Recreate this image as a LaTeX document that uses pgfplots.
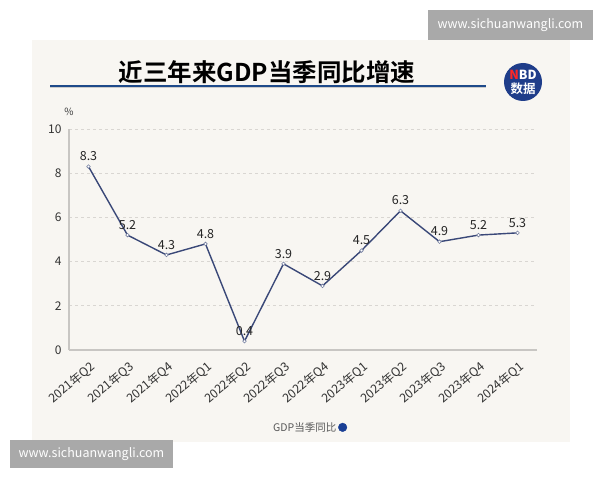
\documentclass[border=0pt]{standalone}
\usepackage{pgfplots}
\pgfplotsset{compat=1.18}
\usepackage{fontspec}
\setmainfont{Noto Sans CJK SC}
\newfontfamily\cjkbold{Noto Sans CJK SC}[BoldFont={* Bold}]
\definecolor{panel}{HTML}{F8F6F2}
\definecolor{wmbox}{HTML}{A9A9A9}
\definecolor{navy}{HTML}{3A4878}
\definecolor{uline}{HTML}{1E4A8A}
\definecolor{logo}{HTML}{1F3D8A}
\definecolor{legdot}{HTML}{1A3F95}
\definecolor{gridc}{HTML}{D9D6D2}
\definecolor{axc}{HTML}{C8C6C3}
\begin{document}
\begin{tikzpicture}[x=1pt,y=1pt]
\useasboundingbox (0,0) rectangle (600,480);
\fill[white] (0,0) rectangle (600,480);
\fill[panel] (32,38) rectangle (570,440);
% watermark boxes
\fill[wmbox] (428,440) rectangle (593,470);
\node[white, font=\fontsize{12.5}{14}\selectfont] at (510.5,455) {www.sichuanwangli.com};
\fill[wmbox] (10,12) rectangle (173,40);
\node[white, font=\fontsize{12.5}{14}\selectfont] at (91.5,26) {www.sichuanwangli.com};
% title
\node[font=\cjkbold\bfseries\fontsize{24.5}{28}\selectfont, text=black, inner sep=0pt] at (267,408) {近三年来GDP当季同比增速};
\draw[uline, line width=2.6pt] (50,394) -- (486,394);
\draw[gray!40, line width=0.8pt] (50,392.4) -- (486,392.4);
% logo
\fill[logo] (523,398) circle (19);
\node[font=\bfseries\fontsize{12.5}{13}\selectfont, inner sep=0pt] at (523,405.5) {\textcolor{red!85!white}{N}\textcolor{white}{BD}};
\node[font=\cjkbold\bfseries\fontsize{12.5}{13}\selectfont, white, inner sep=0pt] at (523,391) {数据};
% percent
\node[font=\fontsize{10}{12}\selectfont, text=black!75] at (69,368) {\%};
\begin{axis}[
  at={(69pt,130pt)}, anchor=south west,
  scale only axis, width=468pt, height=221pt,
  xmin=-0.5, xmax=11.5, ymin=0, ymax=10,
  axis x line=bottom, axis y line=left,
  axis line style={-, axc, line width=1.3pt},
  x axis line style={line width=1.8pt},
  major tick length=0pt,
  ytick={0,2,...,10},
  xtick={0,...,11},
  xticklabels={2021年Q2,2021年Q3,2021年Q4,2022年Q1,2022年Q2,2022年Q3,2022年Q4,2023年Q1,2023年Q2,2023年Q3,2023年Q4,2024年Q1},
  xticklabel style={rotate=40, anchor=north east, font=\fontsize{12.2}{14}\selectfont, text=black!80, inner sep=0pt, xshift=-6pt, yshift=-8pt},
  yticklabel style={font=\fontsize{12}{14}\selectfont, text=black!80, xshift=-4pt},
  /pgf/number format/assume math mode=true,
  ymajorgrids, grid style={gridc, dashed, line width=0.8pt},
  clip=false,
  nodes near coords,
  nodes near coords style={font=\fontsize{12.5}{14}\selectfont, text=black!85, anchor=south, yshift=2pt},
  point meta=explicit symbolic,
  legend style={draw=none, fill=none, at={(0.513,-0.35)}, anchor=center, font=\fontsize{10.5}{12}\selectfont, text=black!65, legend plot pos=right, inner sep=0pt},
]
\addplot[navy, line width=1.4pt, mark=*, mark size=1.8pt, mark options={fill=white, draw=navy!70, line width=0.6pt}, forget plot]
  table[meta=label] {
x y label
0 8.3 8.3
1 5.2 5.2
2 4.3 4.3
3 4.8 4.8
4 0.4 0.4
5 3.9 3.9
6 2.9 2.9
7 4.5 4.5
8 6.3 6.3
9 4.9 4.9
10 5.2 5.2
11 5.3 5.3
};
\addlegendimage{only marks, mark=*, mark size=4.3pt, legdot}
\addlegendentry{GDP当季同比}
\end{axis}
\end{tikzpicture}
\end{document}
